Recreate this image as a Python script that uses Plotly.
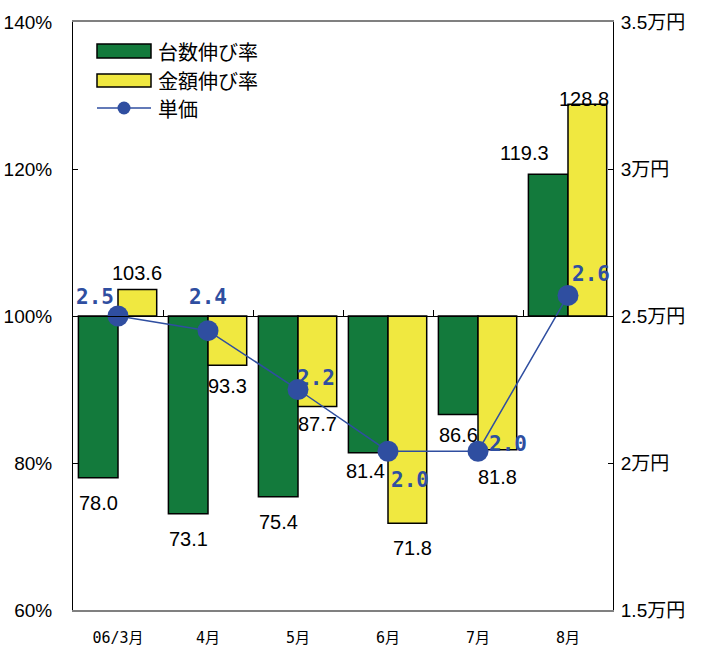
import plotly.graph_objects as go

# ---- data ----
months = ["06/3月", "4月", "5月", "6月", "7月", "8月"]
unit_growth = [78.0, 73.1, 75.4, 81.4, 86.6, 119.3]      # 台数伸び率 (%)
amount_growth = [103.6, 93.3, 87.7, 71.8, 81.8, 128.8]   # 金額伸び率 (%)
unit_price = [2.50, 2.45, 2.25, 2.04, 2.04, 2.57]         # 単価 (万円)
unit_price_labels = ["2.5", "2.4", "2.2", "2.0", "2.0", "2.6"]
left_ticks = [60, 80, 100, 120, 140]
right_ticks = [1.5, 2.0, 2.5, 3.0, 3.5]
right_tick_text = ["1.5万円", "2万円", "2.5万円", "3万円", "3.5万円"]
BASE = 100

# ---- style ----
GREEN = "#137A3C"
YELLOW = "#F0E840"
BLUE = "#2F4EA0"
FONT = "Liberation Sans, Noto Sans CJK JP, sans-serif"
MONO = "DejaVu Sans Mono, Noto Sans CJK JP, monospace"
L, R, T, B = 73, 89, 22, 36
W, H = 702, 646
PW, PH = W - L - R, H - T - B

idx = list(range(len(months)))

fig = go.Figure()
fig.add_trace(go.Bar(
    x=idx, y=[v - BASE for v in unit_growth], base=BASE,
    offset=-0.44, width=0.44,
    marker=dict(color=GREEN, line=dict(color="black", width=1.5)),
    name="台数伸び率", showlegend=False, yaxis="y", xaxis="x",
))
fig.add_trace(go.Bar(
    x=idx, y=[v - BASE for v in amount_growth], base=BASE,
    offset=0.0, width=0.43,
    marker=dict(color=YELLOW, line=dict(color="black", width=1.5)),
    name="金額伸び率", showlegend=False, yaxis="y", xaxis="x",
))
fig.add_trace(go.Scatter(
    x=idx, y=unit_price, mode="lines+markers",
    line=dict(color=BLUE, width=1.5),
    marker=dict(color=BLUE, size=21),
    name="単価", showlegend=False, yaxis="y2", xaxis="x",
))
# invisible trace to carry the 100% baseline axis
fig.add_trace(go.Scatter(x=[0], y=[BASE], mode="markers", marker=dict(opacity=0),
                         xaxis="x2", yaxis="y", showlegend=False, hoverinfo="skip"))

annotations = []
# bar value labels (offsets in pixels)
green_off = [(0, -12), (0, -12), (0, -12), (-3, -5), (0, -8), (-24, 8)]
yellow_off = [(0, 4), (0, -8), (0, -5), (5, -12), (0, -14), (-3, -8)]
for i, v in enumerate(unit_growth):
    below = v < BASE
    dx, dy = green_off[i]
    annotations.append(dict(
        x=i - 0.22, y=v, xref="x", yref="y", text=f"{v:.1f}", showarrow=False,
        yanchor="top" if below else "bottom", xshift=dx, yshift=dy,
        font=dict(family=FONT, size=20, color="black")))
for i, v in enumerate(amount_growth):
    below = v < BASE
    dx, dy = yellow_off[i]
    annotations.append(dict(
        x=i + 0.215, y=v, xref="x", yref="y", text=f"{v:.1f}", showarrow=False,
        yanchor="top" if below else "bottom", xshift=dx, yshift=dy,
        font=dict(family=FONT, size=20, color="black")))
# unit price labels
price_off = [(-23, 19), (0, 34), (18, 12), (22, -29), (30, 7), (23, 21)]
for i, v in enumerate(unit_price):
    dx, dy = price_off[i]
    annotations.append(dict(
        x=i, y=v, xref="x", yref="y2", text=f"<b>{unit_price_labels[i]}</b>", showarrow=False,
        xshift=dx, yshift=dy,
        font=dict(family=MONO, size=21, color=BLUE)))

# custom legend
def px_x(px):
    return (px - L) / PW

def px_y(py):
    return (H - B - py) / PH

shapes = [
    dict(type="rect", xref="paper", yref="paper", x0=px_x(97), x1=px_x(151),
         y0=px_y(58), y1=px_y(44), fillcolor=GREEN, line=dict(color="black", width=1.5)),
    dict(type="rect", xref="paper", yref="paper", x0=px_x(97), x1=px_x(151),
         y0=px_y(87), y1=px_y(74), fillcolor=YELLOW, line=dict(color="black", width=1.5)),
    dict(type="line", xref="paper", yref="paper", x0=px_x(97), x1=px_x(151),
         y0=px_y(108), y1=px_y(108), line=dict(color=BLUE, width=1.5)),
    dict(type="circle", xref="paper", yref="paper", xsizemode="pixel", ysizemode="pixel",
         xanchor=px_x(124), yanchor=px_y(108), x0=-6.5, x1=6.5, y0=-6.5, y1=6.5,
         fillcolor=BLUE, line=dict(color=BLUE, width=0)),
]
for label, py in [("台数伸び率", 51), ("金額伸び率", 80), ("単価", 108)]:
    annotations.append(dict(x=px_x(156), y=px_y(py), xref="paper", yref="paper",
                            text=label, showarrow=False, xanchor="left", yanchor="middle",
                            font=dict(family="Noto Sans CJK JP", size=20, color="black")))

fig.update_layout(
    width=W, height=H,
    margin=dict(l=L, r=R, t=T, b=B, pad=0, autoexpand=False),
    paper_bgcolor="white", plot_bgcolor="white",
    barmode="overlay",
    showlegend=False,
    xaxis=dict(range=[-0.5, 5.5], tickvals=idx, ticktext=months, showgrid=False,
               zeroline=False, showline=True, linecolor="#808080", linewidth=2, mirror=True,
               ticks="", ticklabelstandoff=13, automargin=False,
               tickfont=dict(family=MONO, size=15, color="black")),
    xaxis2=dict(range=[-0.5, 5.5], overlaying="x", anchor="free", position=0.5,
                side="bottom", showline=True, linecolor="black", linewidth=1, automargin=False,
                tickvals=[0.5, 1.5, 2.5, 3.5, 4.5], ticks="inside", ticklen=6,
                tickcolor="black", showticklabels=False, showgrid=False, zeroline=False),
    yaxis=dict(range=[60, 140], tickvals=left_ticks, ticktext=[f"{t}%" for t in left_ticks],
               showgrid=False, zeroline=False, showline=True, linecolor="black", linewidth=1,
               ticks="inside", ticklen=5, tickcolor="black", ticklabelstandoff=16,
               automargin=False,
               tickfont=dict(family=FONT, size=19, color="black")),
    yaxis2=dict(range=[1.5, 3.5], overlaying="y", side="right", tickvals=right_ticks,
                ticktext=right_tick_text, showgrid=False, zeroline=False, showline=True,
                linecolor="black", linewidth=1, ticks="inside", ticklen=5, tickcolor="black",
                ticklabelstandoff=3, automargin=False,
                tickfont=dict(family=FONT, size=19, color="black")),
    annotations=annotations,
    shapes=shapes,
)

fig.write_html("out.html")
